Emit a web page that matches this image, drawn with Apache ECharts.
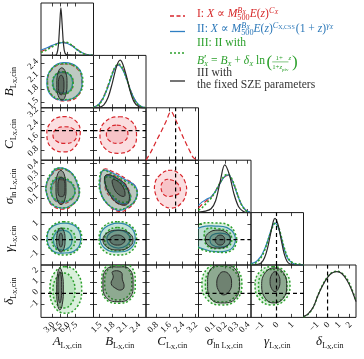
<!DOCTYPE html>
<html><head><meta charset="utf-8">
<script src="https://cdn.jsdelivr.net/npm/echarts@6/dist/echarts.min.js"></script>
<style>html,body{margin:0;padding:0;background:#fff}#c{width:364px;height:359px}</style>
</head><body><div id="c"></div>
<script>
// ---------- axis ranges and tick labels ----------
const rangeA = [0.8, 11.1], rangeB = [1.36, 2.58], rangeC = [0.19, 3.4];
const rangeS = [-0.03, 0.43], rangeG = [-1.7, 1.8], rangeD = [-2.2, 2.6];
const ticksA = [3.0, 4.5, 6.0, 7.5], ticksB = [1.5, 1.8, 2.1, 2.4], ticksC = [0.8, 1.6, 2.4, 3.2];
const ticksS = [0.1, 0.2, 0.3, 0.4], ticksG = [-1, 0, 1], ticksD = [-1, 0, 1, 2];
// fixed SZE parameter values (dashed lines)
const fixedC = 2.0, fixedG = 0, fixedD = 0;

// ---------- 1D marginals [value, density] ----------
const margA_red   = [[0.8,0.08],[2,0.14],[3,0.2],[4,0.25],[5,0.27],[6,0.26],[7,0.2],[8,0.12],[9,0.05],[10,0.01],[11.1,0]];
const margA_blue  = [[0.8,0.11],[2,0.16],[3,0.21],[4,0.25],[5,0.27],[6,0.25],[7,0.19],[8,0.11],[9,0.05],[10,0.01],[11.1,0]];
const margA_green = [[0.8,0.06],[2,0.12],[3,0.18],[4,0.24],[5,0.28],[6,0.27],[7,0.2],[8,0.11],[9,0.04],[10,0.01],[11.1,0]];
const margA_black = [[0.8,0],[3.5,0],[3.9,0.03],[4.2,0.2],[4.45,0.6],[4.7,1.0],[4.95,0.65],[5.2,0.25],[5.5,0.05],[6,0.01],[11.1,0]];
const margB_red   = [[1.36,0.01],[1.45,0.05],[1.55,0.16],[1.65,0.35],[1.75,0.6],[1.85,0.83],[1.95,0.9],[2.05,0.8],[2.15,0.56],[2.25,0.3],[2.35,0.12],[2.45,0.03],[2.58,0]];
const margB_blue  = [[1.36,0.02],[1.45,0.05],[1.55,0.15],[1.65,0.33],[1.75,0.58],[1.85,0.82],[1.93,0.9],[2.05,0.78],[2.15,0.55],[2.25,0.3],[2.35,0.13],[2.45,0.04],[2.58,0]];
const margB_green = [[1.36,0.01],[1.45,0.04],[1.55,0.14],[1.65,0.34],[1.75,0.6],[1.85,0.84],[1.95,0.92],[2.05,0.8],[2.15,0.55],[2.25,0.28],[2.35,0.11],[2.45,0.03],[2.58,0]];
const margB_black = [[1.36,0],[1.5,0.01],[1.6,0.06],[1.7,0.22],[1.8,0.53],[1.9,0.88],[1.98,1.0],[2.1,0.75],[2.2,0.39],[2.3,0.13],[2.4,0.03],[2.5,0],[2.58,0]];
const margC_red   = [[0.19,0],[0.5,0.18],[0.8,0.39],[1.1,0.59],[1.4,0.8],[1.72,1.02],[2.0,0.85],[2.3,0.61],[2.6,0.38],[2.9,0.17],[3.1,0.05],[3.4,0]];
const margS_red   = [[-0.03,0.1],[0.0,0.17],[0.04,0.25],[0.08,0.32],[0.12,0.46],[0.16,0.63],[0.2,0.75],[0.23,0.78],[0.26,0.7],[0.3,0.46],[0.34,0.2],[0.38,0.06],[0.42,0.01]];
const margS_blue  = [[-0.03,0.15],[0.0,0.22],[0.04,0.28],[0.08,0.33],[0.12,0.45],[0.16,0.62],[0.2,0.76],[0.23,0.79],[0.26,0.7],[0.3,0.45],[0.34,0.2],[0.38,0.06],[0.42,0.01]];
const margS_green = [[-0.03,0.05],[0.0,0.1],[0.04,0.2],[0.08,0.3],[0.12,0.45],[0.16,0.63],[0.2,0.78],[0.23,0.8],[0.26,0.72],[0.3,0.47],[0.34,0.2],[0.38,0.05],[0.42,0]];
const margS_black = [[-0.03,0.01],[0.03,0.03],[0.08,0.08],[0.12,0.25],[0.16,0.65],[0.2,1.0],[0.24,0.8],[0.28,0.4],[0.32,0.13],[0.36,0.03],[0.4,0],[0.43,0]];
const margG_blue  = [[-1.7,0.03],[-1.4,0.06],[-1.2,0.12],[-1.0,0.2],[-0.8,0.33],[-0.6,0.5],[-0.4,0.7],[-0.2,0.86],[-0.1,0.88],[0.1,0.8],[0.3,0.6],[0.5,0.35],[0.7,0.17],[0.9,0.08],[1.2,0.02],[1.8,0]];
const margG_green = [[-1.7,0.01],[-1.4,0.04],[-1.2,0.09],[-1.0,0.17],[-0.8,0.3],[-0.6,0.48],[-0.4,0.68],[-0.2,0.84],[-0.1,0.87],[0.1,0.82],[0.3,0.62],[0.5,0.38],[0.7,0.19],[0.9,0.09],[1.2,0.03],[1.5,0.02],[1.8,0]];
const margG_black = [[-1.7,0],[-1.3,0.01],[-1.0,0.05],[-0.8,0.15],[-0.6,0.35],[-0.4,0.65],[-0.2,0.93],[-0.1,0.98],[0.1,0.85],[0.3,0.55],[0.5,0.25],[0.7,0.08],[0.9,0.02],[1.2,0],[1.8,0]];
const margD_green = [[-2.2,0.01],[-1.8,0.06],[-1.3,0.22],[-0.9,0.45],[-0.5,0.66],[0.0,0.85],[0.4,0.94],[0.85,0.97],[1.3,0.93],[1.8,0.8],[2.2,0.6],[2.6,0.35]];
const margD_black = [[-2.2,0.02],[-1.8,0.07],[-1.3,0.22],[-0.9,0.45],[-0.5,0.65],[0.0,0.84],[0.4,0.93],[0.85,0.96],[1.3,0.92],[1.8,0.77],[2.2,0.58],[2.6,0.33]];

// ---------- 2D credible contours (outer = 2 sigma, inner = 1 sigma) ----------
const AB_r1 = [[5.4,2.38],[7.9,2.27],[8.8,1.98],[8.0,1.63],[5.5,1.52],[3.0,1.64],[2.1,1.97],[3.0,2.26]];
const AB_r2 = [[5.1,2.18],[6.5,2.12],[7.1,1.94],[6.5,1.75],[5.0,1.69],[3.7,1.75],[3.2,1.95],[3.7,2.13]];
const AB_b1 = [[5.2,2.41],[8.0,2.3],[8.85,2.0],[8.1,1.68],[5.6,1.54],[3.0,1.62],[1.95,1.92],[2.9,2.27]];
const AB_b2 = [[5.0,2.19],[6.45,2.13],[7.0,1.95],[6.45,1.76],[5.1,1.70],[3.65,1.76],[3.1,1.94],[3.65,2.12]];
const AB_g1 = [[5.5,2.39],[8.1,2.27],[9.0,1.96],[8.0,1.65],[5.4,1.55],[3.0,1.65],[2.05,1.95],[3.0,2.28]];
const AB_g2 = [[5.1,2.2],[6.6,2.12],[7.1,1.93],[6.5,1.74],[5.0,1.68],[3.6,1.75],[3.05,1.95],[3.7,2.14]];
const AB_k1 = [[4.85,2.29],[5.62,2.19],[5.9,1.92],[5.62,1.65],[4.95,1.54],[4.18,1.64],[3.9,1.91],[4.18,2.19]];
const AB_k2 = [[4.75,2.12],[5.15,2.06],[5.3,1.89],[5.15,1.72],[4.75,1.66],[4.35,1.72],[4.2,1.89],[4.35,2.06]];
const AC_r1 = [[5.0,2.86],[7.6,2.6],[8.5,1.85],[7.4,0.98],[5.4,0.7],[2.9,0.95],[1.95,1.7],[2.7,2.5]];
const AC_r2 = [[5.4,2.24],[7.16,2.1],[7.8,1.75],[7.2,1.35],[5.5,1.22],[3.8,1.36],[3.15,1.72],[3.8,2.1]];
const BC_r1 = [[1.95,2.85],[2.25,2.55],[2.36,1.75],[2.26,0.92],[1.92,0.61],[1.62,0.93],[1.51,1.72],[1.62,2.52]];
const BC_r2 = [[1.9,2.34],[2.09,2.18],[2.16,1.78],[2.09,1.38],[1.92,1.22],[1.73,1.38],[1.66,1.78],[1.73,2.18]];
const AS_r1 = [[4.3,0.35],[6.6,0.32],[7.9,0.22],[8.1,0.11],[6.8,0.03],[5.3,0.0],[3.1,0.03],[2.1,0.11],[1.9,0.21],[2.9,0.3]];
const AS_r2 = [[4.7,0.26],[6.6,0.23],[7.4,0.14],[6.4,0.07],[4.9,0.05],[3.5,0.08],[2.9,0.16],[3.5,0.24]];
const AS_b1 = [[4.13,0.36],[6.49,0.33],[7.86,0.23],[8.25,0.12],[6.88,0.04],[5.11,0.01],[2.96,0.04],[2.0,0.12],[1.78,0.21],[2.76,0.3]];
const AS_b2 = [[4.53,0.27],[6.49,0.24],[7.47,0.15],[6.49,0.08],[4.92,0.06],[3.35,0.09],[2.76,0.17],[3.35,0.25]];
const AS_g1 = [[4.0,0.36],[6.4,0.33],[7.9,0.24],[8.3,0.13],[7.0,0.04],[5.0,0.01],[2.9,0.05],[1.95,0.13],[1.85,0.22],[2.7,0.31]];
const AS_g2 = [[4.4,0.28],[6.4,0.25],[7.5,0.16],[6.6,0.09],[5.0,0.07],[3.3,0.1],[2.7,0.18],[3.3,0.26]];
const AS_k1 = [[4.7,0.34],[5.4,0.3],[5.7,0.19],[5.45,0.08],[4.75,0.04],[4.0,0.08],[3.74,0.19],[4.0,0.3]];
const AS_k2 = [[4.8,0.28],[5.3,0.26],[5.5,0.19],[5.3,0.12],[4.8,0.11],[4.3,0.12],[4.13,0.19],[4.3,0.26]];
const BS_r1 = [[1.6,0.35],[1.8,0.33],[2.1,0.27],[2.36,0.18],[2.32,0.07],[2.14,0.0],[1.95,-0.02],[1.72,0.03],[1.55,0.13],[1.52,0.25]];
const BS_r2 = [[1.67,0.3],[1.95,0.27],[2.18,0.17],[2.2,0.07],[2.0,0.04],[1.77,0.1],[1.63,0.19]];
const BS_b1 = [[1.58,0.34],[1.79,0.32],[2.09,0.26],[2.35,0.19],[2.33,0.08],[2.12,0.01],[1.93,-0.01],[1.7,0.04],[1.53,0.14],[1.51,0.26]];
const BS_b2 = [[1.65,0.29],[1.93,0.26],[2.16,0.17],[2.21,0.08],[2.02,0.05],[1.79,0.11],[1.65,0.19]];
const BS_g1 = [[1.57,0.34],[1.78,0.31],[2.08,0.25],[2.34,0.18],[2.35,0.09],[2.15,0.02],[1.92,0.0],[1.68,0.05],[1.52,0.15],[1.5,0.27]];
const BS_g2 = [[1.64,0.28],[1.92,0.25],[2.15,0.16],[2.22,0.09],[2.04,0.06],[1.8,0.12],[1.66,0.2]];
const BS_k1 = [[1.65,0.3],[1.91,0.27],[2.14,0.19],[2.16,0.05],[1.93,0.05],[1.72,0.14],[1.63,0.23]];
const BS_k2 = [[1.81,0.26],[2.02,0.21],[2.09,0.12],[1.98,0.12],[1.84,0.18]];
const CS_r1 = [[1.54,0.34],[2.15,0.32],[2.58,0.24],[2.64,0.14],[2.33,0.05],[1.78,0.01],[1.17,0.04],[0.8,0.12],[0.74,0.23],[1.05,0.3]];
const CS_r2 = [[1.66,0.26],[2.15,0.22],[2.27,0.15],[1.9,0.12],[1.35,0.12],[1.11,0.19],[1.29,0.25]];
const AG_b1 = [[5.3,1.1],[7.7,0.85],[8.6,0.1],[7.8,-0.65],[5.3,-0.9],[2.9,-0.7],[2.0,0.1],[2.8,0.8]];
const AG_b2 = [[5.0,0.63],[6.4,0.45],[6.9,-0.03],[6.4,-0.5],[5.0,-0.7],[3.7,-0.5],[3.2,-0.03],[3.7,0.45]];
const AG_g1 = [[5.2,1.19],[7.8,0.9],[8.78,0.1],[7.9,-0.72],[5.4,-1.03],[2.9,-0.75],[1.92,0.05],[2.8,0.85]];
const AG_g2 = [[5.1,0.75],[6.9,0.55],[7.5,0.0],[6.9,-0.55],[5.2,-0.75],[3.5,-0.55],[3.0,0.0],[3.5,0.55]];
const AG_k1 = [[4.7,0.77],[5.3,0.55],[5.51,0.0],[5.3,-0.6],[4.7,-0.83],[4.1,-0.6],[3.88,-0.03],[4.1,0.55]];
const AG_k2 = [[4.7,0.43],[4.95,0.3],[5.05,-0.03],[4.95,-0.37],[4.7,-0.5],[4.43,-0.37],[4.33,-0.03],[4.43,0.3]];
const BG_b1 = [[1.93,1.1],[2.22,0.82],[2.33,0.12],[2.22,-0.6],[1.92,-0.83],[1.63,-0.6],[1.51,0.1],[1.63,0.8]];
const BG_b2 = [[1.94,0.63],[2.13,0.45],[2.21,0.03],[2.13,-0.4],[1.94,-0.57],[1.75,-0.4],[1.67,0.03],[1.75,0.45]];
const BG_g1 = [[1.92,1.19],[2.24,0.9],[2.36,0.08],[2.25,-0.75],[1.93,-1.03],[1.6,-0.75],[1.49,0.05],[1.6,0.88]];
const BG_g2 = [[1.92,0.8],[2.14,0.57],[2.22,0.0],[2.13,-0.55],[1.92,-0.75],[1.7,-0.55],[1.62,0.02],[1.7,0.58]];
const BG_k1 = [[1.93,0.63],[2.18,0.45],[2.28,-0.03],[2.18,-0.52],[1.93,-0.7],[1.68,-0.52],[1.58,-0.03],[1.68,0.45]];
const BG_k2 = [[1.92,0.3],[2.04,0.2],[2.09,-0.03],[2.04,-0.27],[1.92,-0.37],[1.79,-0.27],[1.74,-0.03],[1.79,0.2]];
const SG_b1 = [[0.0,0.85],[0.12,0.9],[0.22,0.8],[0.28,0.4],[0.29,-0.2],[0.24,-0.7],[0.12,-0.81],[0.02,-0.65],[-0.06,-0.3],[-0.06,0.5]];
const SG_b2 = [[0.16,0.43],[0.23,0.3],[0.25,-0.03],[0.23,-0.37],[0.16,-0.5],[0.09,-0.37],[0.07,-0.03],[0.09,0.3]];
const SG_g1 = [[-0.02,1.03],[0.12,1.1],[0.23,0.97],[0.29,0.43],[0.3,-0.23],[0.25,-0.77],[0.12,-0.83],[0.01,-0.7],[-0.06,-0.3],[-0.06,0.63]];
const SG_g2 = [[0.04,0.7],[0.14,0.72],[0.23,0.55],[0.26,0.1],[0.24,-0.4],[0.14,-0.6],[0.05,-0.45],[0.02,0.2]];
const SG_k1 = [[0.14,0.63],[0.22,0.45],[0.25,0.03],[0.22,-0.42],[0.14,-0.57],[0.06,-0.42],[0.03,0.03],[0.06,0.45]];
const SG_k2 = [[0.16,0.3],[0.19,0.2],[0.2,-0.03],[0.19,-0.27],[0.16,-0.37],[0.13,-0.27],[0.115,-0.03],[0.13,0.2]];
const AD_g1 = [[5.5,2.45],[7.9,1.86],[8.78,0.32],[7.9,-1.22],[5.6,-1.82],[3.4,-1.22],[2.56,0.32],[3.4,1.86]];
const AD_g2 = [[5.3,1.87],[6.8,1.4],[7.47,0.27],[6.8,-0.9],[5.3,-1.34],[3.8,-0.9],[3.15,0.27],[3.8,1.4]];
const AD_k1 = [[4.5,2.33],[4.98,1.8],[5.18,0.4],[4.98,-1.0],[4.5,-1.52],[4.05,-1.0],[3.88,0.4],[4.05,1.8]];
const AD_k2 = [[4.5,1.99],[4.75,1.6],[4.85,0.55],[4.75,-0.5],[4.5,-0.88],[4.25,-0.5],[4.13,0.55],[4.25,1.6]];
const BD_g1 = [[1.93,2.75],[2.24,2.4],[2.33,0.9],[2.24,-0.45],[1.95,-0.91],[1.64,-0.5],[1.55,0.9],[1.64,2.4]];
const BD_g2 = [[1.93,2.55],[2.17,2.2],[2.25,0.95],[2.17,-0.2],[1.93,-0.6],[1.7,-0.2],[1.62,0.95],[1.7,2.2]];
const BD_k1 = [[1.93,2.42],[2.2,2.2],[2.28,0.85],[2.2,-0.4],[1.93,-0.76],[1.66,-0.4],[1.58,0.85],[1.66,2.2]];
const BD_k2 = [[1.8,1.99],[2.0,1.95],[2.03,1.3],[2.07,0.6],[2.0,0.31],[1.88,0.45],[1.77,0.9],[1.82,1.5]];
const SD_g1 = [[0.17,2.7],[0.3,2.3],[0.35,0.8],[0.3,-0.6],[0.17,-1.06],[0.05,-0.6],[0.0,0.8],[0.05,2.3]];
const SD_g2 = [[0.17,2.5],[0.28,2.1],[0.33,0.85],[0.28,-0.4],[0.17,-0.8],[0.07,-0.4],[0.03,0.85],[0.07,2.1]];
const SD_k1 = [[0.18,2.6],[0.29,2.25],[0.33,0.85],[0.29,-0.5],[0.18,-0.88],[0.08,-0.5],[0.05,0.85],[0.08,2.25]];
const SD_k2 = [[0.19,1.99],[0.24,1.7],[0.26,0.9],[0.24,0.2],[0.19,-0.14],[0.15,0.2],[0.13,0.9],[0.15,1.7]];
const GD_g1 = [[-0.25,2.45],[0.55,2.0],[0.9,0.7],[0.55,-0.6],[-0.3,-1.06],[-1.1,-0.6],[-1.43,0.7],[-1.1,2.0]];
const GD_g2 = [[-0.25,2.2],[0.45,1.8],[0.7,0.7],[0.45,-0.4],[-0.25,-0.8],[-0.95,-0.4],[-1.2,0.7],[-0.95,1.8]];
const GD_k1 = [[-0.15,2.33],[0.45,1.9],[0.68,0.72],[0.45,-0.45],[-0.2,-0.88],[-0.75,-0.45],[-0.99,0.72],[-0.75,1.9]];
const GD_k2 = [[-0.1,1.99],[0.13,1.7],[0.23,1.1],[0.13,0.45],[-0.1,0.16],[-0.33,0.45],[-0.43,1.1],[-0.33,1.7]];

// ---------- configuration ----------
const R = {A:rangeA,B:rangeB,C:rangeC,S:rangeS,G:rangeG,D:rangeD};
const T = {A:ticksA,B:ticksB,C:ticksC,S:ticksS,G:ticksG,D:ticksD};
const DEC = {A:1,B:1,C:1,S:1,G:0,D:0};
const colX = [41, 93.5, 146, 198.5, 251, 303.5], rowY = [3, 55.4, 107.8, 160.2, 212.6, 265];
const cellW = 52.5, cellH = 52.4;
const ST = {
  red:   {stroke:'#d8262c', fill:'rgba(235,90,100,0.2)', dash:[4,2.5], lw:1.2},
  blue:  {stroke:'#2f7fc3', fill:'rgba(60,140,210,0.16)', dash:null, lw:1.2},
  green: {stroke:'#2ca02c', fill:'rgba(50,170,60,0.18)', dash:[2,2], lw:1.5},
  black: {stroke:'#2a2a2a', fill:'rgba(40,40,40,0.3)', dash:null, lw:1.0}
};

const panels = [
  {r:0,c:0,x:'A',curves:[['red',margA_red],['blue',margA_blue],['green',margA_green],['black',margA_black]]},
  {r:1,c:0,x:'A',y:'B',polys:[['red',AB_r1,AB_r2],['blue',AB_b1,AB_b2],['green',AB_g1,AB_g2],['black',AB_k1,AB_k2]]},
  {r:1,c:1,x:'B',curves:[['red',margB_red],['blue',margB_blue],['green',margB_green],['black',margB_black]]},
  {r:2,c:0,x:'A',y:'C',polys:[['red',AC_r1,AC_r2]],hline:fixedC},
  {r:2,c:1,x:'B',y:'C',polys:[['red',BC_r1,BC_r2]],hline:fixedC},
  {r:2,c:2,x:'C',curves:[['red',margC_red]],vline:fixedC},
  {r:3,c:0,x:'A',y:'S',polys:[['red',AS_r1,AS_r2],['blue',AS_b1,AS_b2],['green',AS_g1,AS_g2],['black',AS_k1,AS_k2]]},
  {r:3,c:1,x:'B',y:'S',polys:[['red',BS_r1,BS_r2],['blue',BS_b1,BS_b2],['green',BS_g1,BS_g2],['black',BS_k1,BS_k2]]},
  {r:3,c:2,x:'C',y:'S',polys:[['red',CS_r1,CS_r2]],vline:fixedC},
  {r:3,c:3,x:'S',curves:[['red',margS_red],['blue',margS_blue],['green',margS_green],['black',margS_black]]},
  {r:4,c:0,x:'A',y:'G',polys:[['blue',AG_b1,AG_b2],['green',AG_g1,AG_g2],['black',AG_k1,AG_k2]],hline:fixedG},
  {r:4,c:1,x:'B',y:'G',polys:[['blue',BG_b1,BG_b2],['green',BG_g1,BG_g2],['black',BG_k1,BG_k2]],hline:fixedG},
  {r:4,c:2,x:'C',y:'G',polys:[]},
  {r:4,c:3,x:'S',y:'G',polys:[['blue',SG_b1,SG_b2],['green',SG_g1,SG_g2],['black',SG_k1,SG_k2]],hline:fixedG},
  {r:4,c:4,x:'G',curves:[['blue',margG_blue],['green',margG_green],['black',margG_black]],vline:fixedG},
  {r:5,c:0,x:'A',y:'D',polys:[['green',AD_g1,AD_g2],['black',AD_k1,AD_k2]],hline:fixedD},
  {r:5,c:1,x:'B',y:'D',polys:[['green',BD_g1,BD_g2],['black',BD_k1,BD_k2]]},
  {r:5,c:2,x:'C',y:'D',polys:[]},
  {r:5,c:3,x:'S',y:'D',polys:[['green',SD_g1,SD_g2],['black',SD_k1,SD_k2]],hline:fixedD},
  {r:5,c:4,x:'G',y:'D',polys:[['green',GD_g1,GD_g2],['black',GD_k1,GD_k2]],hline:fixedD,vline:fixedG},
  {r:5,c:5,x:'D',curves:[['green',margD_green],['black',margD_black]],vline:fixedD}
];

const fam = '"Liberation Serif","DejaVu Serif",serif';
function fmt(v, val) {
  if (DEC[v] === 0) return val < 0 ? '\u2212' + Math.abs(val) : String(val);
  return val.toFixed(DEC[v]);
}
function axisCfg(k, pos, v) {
  return {type:'value', gridIndex:k, position:pos, min:R[v][0], max:R[v][1],
    axisLine:{show:false, onZero:false}, splitLine:{show:false}, minorTick:{show:false},
    axisTick:{show:true, inside:true, length:3.5, customValues:T[v], lineStyle:{color:'#111', width:0.8}},
    axisLabel:{show:false}};
}
function polySeries(k, pts, m) {
  const st = ST[m];
  return {type:'custom', xAxisIndex:2*k, yAxisIndex:2*k, data:pts, clip:true, silent:true, animation:false,
    renderItem:(params, api) => {
      if (params.dataIndex !== 0) return null;
      return {type:'polygon', shape:{points: pts.map(q => api.coord(q)), smooth:0.45},
        style:{fill:st.fill, stroke:st.stroke, lineWidth:st.lw, lineDash:st.dash}};
    }};
}
function lineSeries(k, data, color, width, dash, smooth) {
  return {type:'line', xAxisIndex:2*k, yAxisIndex:2*k, data, smooth, symbol:'none', clip:true, silent:true, animation:false,
    lineStyle:{color, width, type:dash || 'solid'}};
}

const grid = [], xAxis = [], yAxis = [], series = [];
panels.forEach((p, k) => {
  grid.push({left:colX[p.c], top:rowY[p.r], width:cellW, height:cellH, show:true, borderColor:'#1a1a1a', borderWidth:1,
    backgroundColor:'transparent', containLabel:false, outerBoundsMode:'none'});
  xAxis.push(axisCfg(k, 'bottom', p.x));
  xAxis.push(axisCfg(k, 'top', p.x));
  if (p.y) {
    yAxis.push(axisCfg(k, 'left', p.y));
    yAxis.push(axisCfg(k, 'right', p.y));
  } else {
    yAxis.push({type:'value', gridIndex:k, min:0, max:1.1, show:false});
    yAxis.push({type:'value', gridIndex:k, min:0, max:1.1, show:false, position:'right'});
  }
  if (p.polys) p.polys.forEach(([m, outer, inner]) => {
    series.push(polySeries(k, outer, m));
    series.push(polySeries(k, inner, m));
  });
  if (p.curves) p.curves.forEach(([m, d]) => {
    const st = ST[m];
    series.push(lineSeries(k, d, st.stroke, m === 'green' ? 1.6 : 1.2, st.dash ? (m === 'red' ? [5,3] : [2,2]) : null, 0.35));
  });
  const xr = R[p.x], yr = p.y ? R[p.y] : [0, 1.1];
  if (p.hline !== undefined) series.push(lineSeries(k, [[xr[0], p.hline], [xr[1], p.hline]], '#000', 1.2, [4,3], false));
  if (p.vline !== undefined) series.push(lineSeries(k, [[p.vline, yr[0]], [p.vline, yr[1]]], '#000', 1.2, [4,3], false));
});

const chart = echarts.init(document.getElementById('c'), null, {renderer:'canvas'});
chart.setOption({animation:false, backgroundColor:'#fff', grid, xAxis, yAxis, series});

// ---------- math-like text layout ----------
const mctx = document.createElement('canvas').getContext('2d');
function measure(t, s, it) { mctx.font = (it ? 'italic ' : '') + s + 'px ' + fam; return mctx.measureText(t).width; }
function layoutMath(pieces, color, x0, base, center) {
  let cur = 0, mark = 0, barEnd = null;
  const pos = [];
  pieces.forEach(p => {
    const w = measure(p.t, p.s, p.it);
    const x = (p.back ? mark : cur) + (p.dx || 0);
    if (p.mark) mark = x;
    if (p.barEnd) barEnd = x + w;
    pos.push({p, x, w});
    cur = Math.max(cur, x + w);
  });
  const sh = center ? -cur / 2 : 0;
  const els = pos.map(o => ({type:'text', silent:true, x:x0 + sh + o.x, y:base + (o.p.dy || 0) - 0.34 * o.p.s,
    style:{text:o.p.t, fontSize:o.p.s, fontFamily:fam, fontStyle:o.p.it ? 'italic' : 'normal', fill:color,
      align:'left', verticalAlign:'middle', textAlign:'left', textVerticalAlign:'middle'}}));
  return {els, mark:x0 + sh + mark, barEnd:barEnd === null ? null : x0 + sh + barEnd};
}
const SYM = {A:'A', B:'B', C:'C', S:'\u03c3', G:'\u03b3', D:'\u03b4'};
function titlePieces(v) {
  const pre = v === 'S' ? [{t:'ln L', s:8, dy:3}] : [{t:'L', s:8, dy:3}];
  return [{t:SYM[v], s:13, it:true}].concat(pre, [{t:'X', s:6.3, dy:3}, {t:',cin', s:8, dy:3}]);
}
const graphics = [];
['A','B','C','S','G','D'].forEach((v, i) => {
  graphics.push(...layoutMath(titlePieces(v), '#111', colX[i] + cellW / 2, 346, true).els);
  if (i > 0) graphics.push({type:'group', x:14, y:rowY[i] + cellH / 2, rotation:Math.PI / 2,
    children:layoutMath(titlePieces(v), '#111', 0, 0, true).els});
});

// rotated tick labels, placed with the axes' own scales
function rotLabel(t, x, y) {
  return {type:'text', silent:true, x, y, rotation:Math.PI / 4,
    style:{text:t, fontSize:9, fontFamily:fam, fill:'#111', align:'right', verticalAlign:'middle', textAlign:'right', textVerticalAlign:'middle'}};
}
panels.forEach((p, k) => {
  if (p.r === 5) T[p.x].forEach(v => {
    const px = chart.convertToPixel({xAxisIndex:2*k}, v);
    graphics.push(rotLabel(fmt(p.x, v), px + 1, rowY[5] + cellH + 6));
  });
  if (p.c === 0 && p.y) T[p.y].forEach(v => {
    const py = chart.convertToPixel({yAxisIndex:2*k}, v);
    graphics.push(rotLabel(fmt(p.y, v), colX[0] - 4, py - 3));
  });
});

// legend
const cRed = '#d62728', cBlue = '#2a77b8', cGreen = '#2ca02c', cDark = '#333333';
const M = 11.6, SP = 8.2, SS = 6;
const legLines = [
  {color:cRed, base:18.3, pieces:[{t:'I: ',s:M},{t:'X',s:M,it:true},{t:' \u221d ',s:M},{t:'M',s:M,it:true},
    {t:'B',s:SP,it:true,dy:-4.8,mark:true},{t:'X',s:SS,it:true,dy:-3.8},{t:'500',s:SP,dy:2.4,back:true},
    {t:'E',s:M,it:true},{t:'(',s:M},{t:'z',s:M,it:true},{t:')',s:M},{t:'C',s:SP,it:true,dy:-4.8},{t:'X',s:SS,it:true,dy:-3.8}]},
  {color:cBlue, base:33.3, pieces:[{t:'II: ',s:M},{t:'X',s:M,it:true},{t:' \u221d ',s:M},{t:'M',s:M,it:true},
    {t:'B',s:SP,it:true,dy:-4.8,mark:true},{t:'X',s:SS,it:true,dy:-3.8},{t:'500',s:SP,dy:2.4,back:true},
    {t:'E',s:M,it:true},{t:'(',s:M},{t:'z',s:M,it:true},{t:')',s:M},{t:'C',s:SP,it:true,dy:-4.8},{t:'X,CSS',s:SS,dy:-3.8},
    {t:'(1 + ',s:M,dx:1},{t:'z',s:M,it:true},{t:')',s:M},{t:'\u03b3',s:SP,it:true,dy:-4.8},{t:'X',s:SS,it:true,dy:-3.8}]},
  {color:cGreen, base:46.7, pieces:[{t:'III: II with',s:M}]},
  {color:cGreen, base:64.5, pieces:[{t:'B',s:M,it:true},{t:'\u2032',s:M,dy:-1,mark:true},{t:'X',s:SS+0.5,it:true,dy:2.4,back:true},
    {t:' = ',s:M},{t:'B',s:M,it:true},{t:'X',s:SS+0.5,it:true,dy:2.4},{t:' + ',s:M},{t:'\u03b4',s:M,it:true},{t:'X',s:SS+0.5,it:true,dy:2.4},
    {t:' ln',s:M},{t:'(',s:17,dy:3.5,dx:1.5},
    {t:'1+',s:6.8,dy:5.2,mark:true},{t:'z',s:6.8,it:true,dy:5.2},{t:'piv',s:5,dy:6.8,barEnd:true},
    {t:'1+',s:6.8,dy:-4.2,back:true,dx:3.4},{t:'z',s:6.8,it:true,dy:-4.2},{t:')',s:17,dy:3.5,dx:1}]},
  {color:cDark, base:77.3, pieces:[{t:'III with',s:M}]},
  {color:cDark, base:89.3, pieces:[{t:'the fixed SZE parameters',s:M}]}
];
legLines.forEach(L => {
  const res = layoutMath(L.pieces, L.color, 197, L.base, false);
  graphics.push(...res.els);
  if (res.barEnd !== null) graphics.push({type:'line', silent:true,
    shape:{x1:res.mark, y1:L.base - 2.6, x2:res.barEnd, y2:L.base - 2.6}, style:{stroke:L.color, lineWidth:0.6}});
});
const handles = [[16, 'red'], [31.5, 'blue'], [53, 'green'], [81, 'black']];
handles.forEach(([y, m]) => {
  const st = ST[m];
  graphics.push({type:'line', silent:true, shape:{x1:170, y1:y, x2:185, y2:y},
    style:{stroke:st.stroke, lineWidth:m === 'green' ? 1.6 : 1.3, lineDash:st.dash}});
});

chart.setOption({graphic:{elements:graphics}});
</script></body></html>
